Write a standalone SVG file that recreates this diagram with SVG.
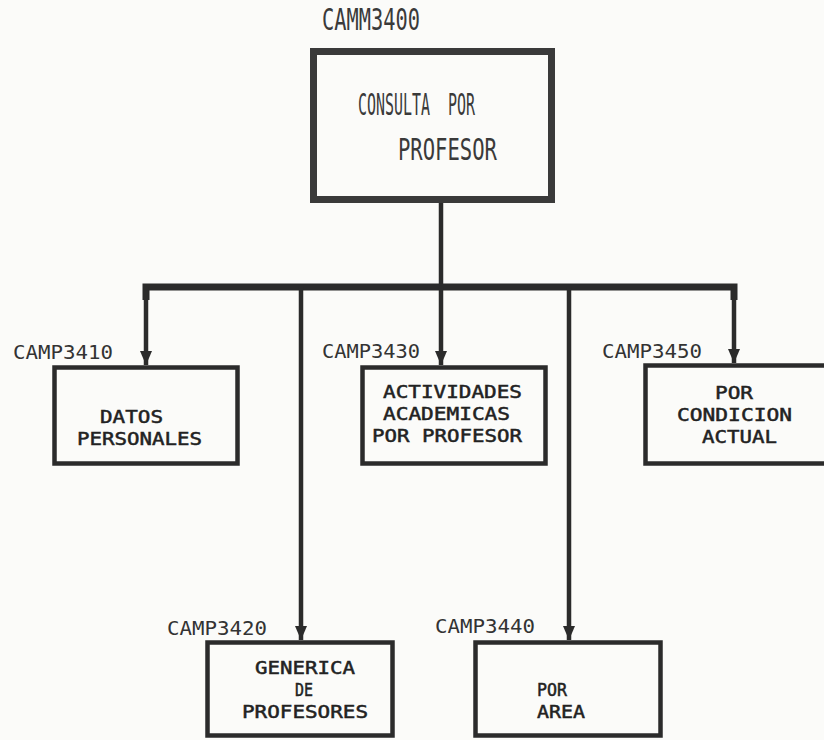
<svg xmlns="http://www.w3.org/2000/svg" width="824" height="740" viewBox="0 0 824 740">
<style>
.bg{fill:#fbfbf9}
.box{fill:none;stroke:#2b2b2b;stroke-width:4.5}
.top{fill:none;stroke:#3a3a3a;stroke-width:7}
.con{fill:none;stroke:#2b2b2b;stroke-width:4.5}
.bar{fill:none;stroke:#2b2b2b;stroke-width:7;stroke-linejoin:miter}
.lbl{font-family:"DejaVu Sans Mono","Liberation Mono",monospace;font-size:19px;fill:#333}
.txt{font-family:"DejaVu Sans Mono","Liberation Mono",monospace;font-size:18px;fill:#222;stroke:#222;stroke-width:0.5}
.ttl{font-family:"DejaVu Sans Mono","Liberation Mono",monospace;font-size:30px;fill:#3a3a3a}
</style>
<defs>
<marker id="arr" markerUnits="userSpaceOnUse" markerWidth="14" markerHeight="12" refX="14" refY="6" orient="auto" viewBox="0 0 14 12">
<path d="M0,0 L14,6 L0,12 Z" fill="#2b2b2b"/>
</marker>
</defs>
<rect class="bg" x="0" y="0" width="824" height="740"/>
<g id="connectors">
<line class="con" x1="441" y1="203" x2="441" y2="287"/>
<path class="bar" d="M146,300 V287 H734 V300"/>
<line class="con" x1="146" y1="287" x2="146" y2="365" marker-end="url(#arr)"/>
<line class="con" x1="301" y1="287" x2="301" y2="640" marker-end="url(#arr)"/>
<line class="con" x1="441" y1="287" x2="441" y2="365" marker-end="url(#arr)"/>
<line class="con" x1="569" y1="287" x2="569" y2="640" marker-end="url(#arr)"/>
<line class="con" x1="734" y1="287" x2="734" y2="363" marker-end="url(#arr)"/>
</g>
<g id="camm3400">
<rect class="top" x="313.5" y="51.5" width="238" height="148"/>
<text class="ttl" x="322" y="30" font-size="27" textLength="98" lengthAdjust="spacingAndGlyphs">CAMM3400</text>
<text class="ttl" x="358" y="115" textLength="117" lengthAdjust="spacingAndGlyphs" xml:space="preserve">CONSULTA  POR</text>
<text class="ttl" x="398" y="160" textLength="99" lengthAdjust="spacingAndGlyphs">PROFESOR</text>
</g>
<g id="camp3410">
<rect class="box" x="54.5" y="367.5" width="183" height="96"/>
<text class="lbl" x="13" y="359" textLength="100" lengthAdjust="spacingAndGlyphs">CAMP3410</text>
<text class="txt" x="100" y="423" textLength="63" lengthAdjust="spacingAndGlyphs">DATOS</text>
<text class="txt" x="77" y="445" textLength="125" lengthAdjust="spacingAndGlyphs">PERSONALES</text>
</g>
<g id="camp3430">
<rect class="box" x="362.5" y="367.5" width="183" height="96"/>
<text class="lbl" x="322" y="358" textLength="98" lengthAdjust="spacingAndGlyphs">CAMP3430</text>
<text class="txt" x="383" y="398" textLength="139" lengthAdjust="spacingAndGlyphs">ACTIVIDADES</text>
<text class="txt" x="383" y="420" textLength="127" lengthAdjust="spacingAndGlyphs">ACADEMICAS</text>
<text class="txt" x="372" y="442" textLength="150" lengthAdjust="spacingAndGlyphs">POR PROFESOR</text>
</g>
<g id="camp3450">
<rect class="box" x="645.5" y="365.5" width="190" height="98"/>
<text class="lbl" x="602" y="358" textLength="100" lengthAdjust="spacingAndGlyphs">CAMP3450</text>
<text class="txt" x="715" y="399" textLength="38" lengthAdjust="spacingAndGlyphs">POR</text>
<text class="txt" x="677" y="421" textLength="115" lengthAdjust="spacingAndGlyphs">CONDICION</text>
<text class="txt" x="702" y="443" textLength="75" lengthAdjust="spacingAndGlyphs">ACTUAL</text>
</g>
<g id="camp3420">
<rect class="box" x="207.5" y="642.5" width="185" height="93"/>
<text class="lbl" x="167" y="635" textLength="100" lengthAdjust="spacingAndGlyphs">CAMP3420</text>
<text class="txt" x="255" y="674" textLength="100" lengthAdjust="spacingAndGlyphs">GENERICA</text>
<text class="txt" x="295" y="696" textLength="18" lengthAdjust="spacingAndGlyphs">DE</text>
<text class="txt" x="242" y="718" textLength="126" lengthAdjust="spacingAndGlyphs">PROFESORES</text>
</g>
<g id="camp3440">
<rect class="box" x="475.5" y="642.5" width="185" height="93"/>
<text class="lbl" x="435" y="633" textLength="100" lengthAdjust="spacingAndGlyphs">CAMP3440</text>
<text class="txt" x="537" y="696" textLength="30" lengthAdjust="spacingAndGlyphs">POR</text>
<text class="txt" x="537" y="718" textLength="48" lengthAdjust="spacingAndGlyphs">AREA</text>
</g>
</svg>
